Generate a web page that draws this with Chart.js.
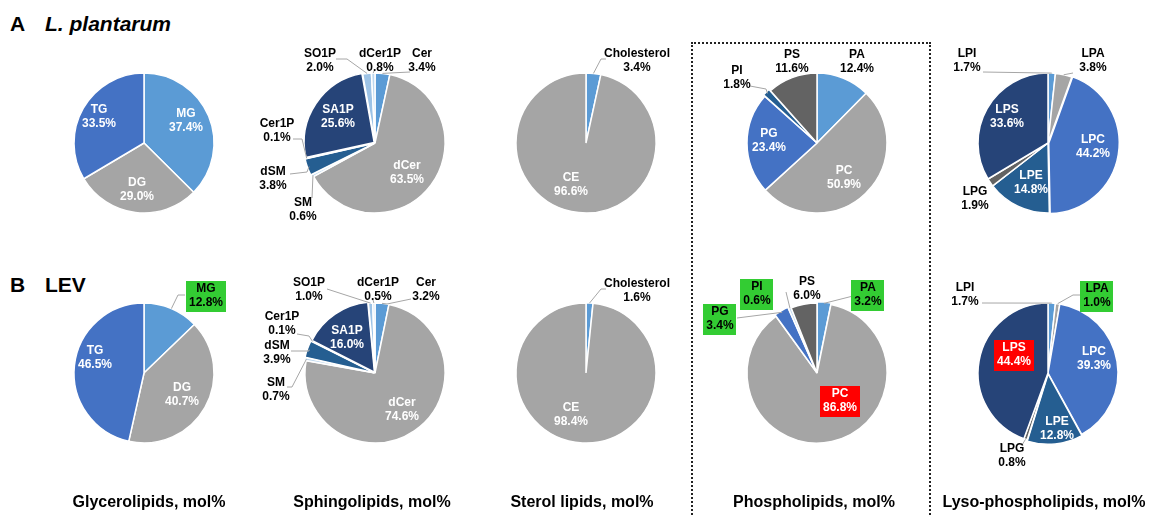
<!DOCTYPE html>
<html>
<head>
<meta charset="utf-8">
<title>Lipid class composition</title>
<script src="https://cdn.jsdelivr.net/npm/chart.js@4.4.0/dist/chart.umd.min.js"></script>
<style>
  body { margin: 0; background: #fff; font-family: Arial, 'Liberation Sans', sans-serif; }
  #fig { position: relative; width: 1161px; height: 517px; overflow: hidden; }
  .pie { position: absolute; }
  .panel { position: absolute; font-weight: bold; font-size: 21px; line-height: 1; }
  .foot { position: absolute; top: 494px; font-weight: bold; font-size: 16px; line-height: 1;
          transform: translateX(-50%); white-space: nowrap; }
  #pl-box { position: absolute; left: 691px; top: 42px; width: 236px; height: 490px;
            border: 2px dotted #222; border-bottom: none; }
</style>
</head>
<body>
<div id="fig">
  <div class="panel" style="left:10px;top:13px">A</div>
  <div class="panel" style="left:45px;top:13px;font-style:italic">L. plantarum</div>
  <div class="panel" style="left:10px;top:274px">B</div>
  <div class="panel" style="left:45px;top:274px">LEV</div>
  <div id="pl-box"></div>
</div>
<script>
// mol% per lipid class, slices listed clockwise from 12 o'clock
const GLYCERO_CLASSES = ['MG', 'DG', 'TG'];
const GLYCERO_LP      = [37.4, 29.0, 33.5];
const GLYCERO_LEV     = [12.8, 40.7, 46.5];

const SPHINGO_CLASSES = ['Cer', 'dCer', 'SM', 'dSM', 'Cer1P', 'SA1P', 'SO1P', 'dCer1P'];
const SPHINGO_LP      = [3.4, 63.5, 0.6, 3.8, 0.1, 25.6, 2.0, 0.8];
const SPHINGO_LEV     = [3.2, 74.6, 0.7, 3.9, 0.1, 16.0, 1.0, 0.5];

const STEROL_CLASSES  = ['Cholesterol', 'CE'];
const STEROL_LP       = [3.4, 96.6];
const STEROL_LEV      = [1.6, 98.4];

const PHOSPHO_CLASSES = ['PA', 'PC', 'PG', 'PI', 'PS'];
const PHOSPHO_LP      = [12.4, 50.9, 23.4, 1.8, 11.6];
const PHOSPHO_LEV     = [3.2, 86.8, 3.4, 0.6, 6.0];

const LYSO_CLASSES    = ['LPI', 'LPA', 'LPC', 'LPE', 'LPG', 'LPS'];
const LYSO_LP         = [1.7, 3.8, 44.2, 14.8, 1.9, 33.6];
const LYSO_LEV        = [1.7, 1.0, 39.3, 12.8, 0.8, 44.4];

const GROUP_TITLES = ['Glycerolipids, mol%', 'Sphingolipids, mol%', 'Sterol lipids, mol%',
                      'Phospholipids, mol%', 'Lyso-phospholipids, mol%'];

// ── Styling ───────────────────────────────────────────────────────────
const C = {
  blue: '#5B9BD5', gray: '#A5A5A5', mid: '#4472C4', navy: '#264478',
  teal: '#255E91', dark: '#636363', pale: '#9DC3E6', paler: '#BDD7EE'
};
const GREEN = '#33CC33', RED = '#FF0000', LEAD = '#A6A6A6';
const FONT = "bold 12px Arial, 'Liberation Sans', sans-serif";
const COL_X = [144, 375, 586, 817, 1048];
const ROW_Y = [143, 373];
const FOOT_X = [149, 372, 582, 814, 1044];
const RADIUS = 70;

// label placement per slice: offset from pie centre, text colour/box, leader points
const IN = (dx, dy) => ({ dx, dy, fill: '#fff' });
const OUT = (dx, dy, lead) => ({ dx, dy, fill: '#000', lead });
const BOX = (dx, dy, bg, lead) => ({ dx, dy, fill: bg === RED ? '#fff' : '#000', bg, lead });

const PIES = [
  { col: 0, row: 0, names: GLYCERO_CLASSES, values: GLYCERO_LP, colors: [C.blue, C.gray, C.mid],
    labels: [IN(42, -22), IN(-7, 47), IN(-45, -26)] },
  { col: 0, row: 1, names: GLYCERO_CLASSES, values: GLYCERO_LEV, colors: [C.blue, C.gray, C.mid],
    labels: [BOX(62, -77, GREEN, [[41, -78], [34, -78]]), IN(38, 22), IN(-49, -15)] },

  { col: 1, row: 0, names: SPHINGO_CLASSES, values: SPHINGO_LP,
    colors: [C.blue, C.gray, C.paler, C.teal, C.navy, C.navy, C.pale, C.paler],
    offset: [0, 0, 3, 4, 4, 4, 0, 0],
    labels: [OUT(47, -82, [[35, -71]]), IN(32, 30), OUT(-72, 67, [[-63, 55]]),
             OUT(-102, 36, [[-85, 31], [-68, 29]]), OUT(-98, -12, [[-82, -4], [-73, -4]]),
             IN(-37, -26), OUT(-55, -82, [[-39, -84], [-28, -84]]), OUT(5, -82, [[-1, -72]])] },
  { col: 1, row: 1, names: SPHINGO_CLASSES, values: SPHINGO_LEV,
    colors: [C.blue, C.gray, C.paler, C.teal, C.navy, C.navy, C.pale, C.paler],
    offset: [0, 0, 3, 4, 4, 4, 0, 0],
    labels: [OUT(51, -83, [[36, -74], [12, -69]]), IN(27, 37), OUT(-99, 17, [[-88, 14], [-83, 14]]),
             OUT(-98, -20, [[-84, -22], [-66, -22]]), OUT(-93, -49, [[-78, -39], [-66, -37]]),
             IN(-28, -35), OUT(-66, -83, [[-48, -84]]), OUT(3, -83, [[-2, -73]])] },

  { col: 2, row: 0, names: STEROL_CLASSES, values: STEROL_LP, colors: [C.blue, C.gray],
    labels: [OUT(51, -82, [[20, -84], [15, -84]]), IN(-15, 42)] },
  { col: 2, row: 1, names: STEROL_CLASSES, values: STEROL_LEV, colors: [C.blue, C.gray],
    labels: [OUT(51, -82, [[20, -84], [15, -84]]), IN(-15, 42)] },

  { col: 3, row: 0, names: PHOSPHO_CLASSES, values: PHOSPHO_LP,
    colors: [C.blue, C.gray, C.mid, C.teal, C.dark], offset: [0, 0, 0, 4, 0],
    labels: [OUT(40, -81), IN(27, 35), IN(-48, -2), OUT(-80, -65, [[-67, -57], [-51, -54]]),
             OUT(-25, -81)] },
  { col: 3, row: 1, names: PHOSPHO_CLASSES, values: PHOSPHO_LEV,
    colors: [C.blue, C.gray, C.mid, C.paler, C.dark], offset: [3, 0, 4, 0, 0],
    labels: [BOX(51, -78, GREEN, [[36, -77]]), BOX(23, 28, RED), BOX(-97, -54, GREEN, [[-80, -55]]),
             BOX(-60, -79, GREEN, [[-31, -81]]), OUT(-10, -84)] },

  { col: 4, row: 0, names: LYSO_CLASSES, values: LYSO_LP,
    colors: [C.blue, C.gray, C.mid, C.teal, C.dark, C.navy], offset: [0, 0, 3, 0, 0, 0],
    labels: [OUT(-81, -82, [[-65, -71]]), OUT(45, -82, [[25, -70]]), IN(45, 4), IN(-17, 40),
             OUT(-73, 56), IN(-41, -26)] },
  { col: 4, row: 1, names: LYSO_CLASSES, values: LYSO_LEV,
    colors: [C.blue, C.gray, C.mid, C.teal, C.dark, C.navy], offset: [0, 0, 0, 4, 0, 0],
    labels: [OUT(-83, -78, [[-66, -70]]), BOX(49, -77, GREEN, [[33, -78], [25, -78]]), IN(46, -14),
             IN(9, 56), OUT(-36, 83, [[-26, 72]]), BOX(-34, -18, RED)] },
];

// ── Slice labels with leader lines ───────────────────────────────────
function sliceLabels(specs, names) {
  return {
    id: 'sliceLabels',
    afterDatasetsDraw(chart) {
      const ctx = chart.ctx;
      const values = chart.data.datasets[0].data;
      ctx.save();
      ctx.font = FONT;
      ctx.textAlign = 'center';
      ctx.textBaseline = 'middle';
      chart.getDatasetMeta(0).data.forEach((arc, i) => {
        const s = specs[i];
        if (!s) return;
        const { x, y, startAngle, endAngle, outerRadius } =
          arc.getProps(['x', 'y', 'startAngle', 'endAngle', 'outerRadius'], true);
        const mid = (startAngle + endAngle) / 2;
        const lx = x + s.dx, ly = y + s.dy;
        const lines = [names[i], values[i].toFixed(1) + '%'];

        if (s.lead) {
          ctx.beginPath();
          ctx.strokeStyle = LEAD;
          ctx.lineWidth = 1;
          s.lead.forEach((p, k) => {
            if (k === 0) ctx.moveTo(x + p[0], y + p[1]);
            else ctx.lineTo(x + p[0], y + p[1]);
          });
          ctx.lineTo(x + Math.cos(mid) * outerRadius, y + Math.sin(mid) * outerRadius);
          ctx.stroke();
        }
        if (s.bg) {
          const w = Math.max(...lines.map(t => ctx.measureText(t).width)) + 6;
          ctx.fillStyle = s.bg;
          ctx.fillRect(Math.round(lx - w / 2), Math.round(ly - 15.5), Math.round(w), 31);
        }
        ctx.fillStyle = s.fill;
        ctx.fillText(lines[0], lx, ly - 7);
        ctx.fillText(lines[1], lx, ly + 7);
      });
      ctx.restore();
    }
  };
}

// ── Build the ten pies ───────────────────────────────────────────────
const W = 250, H = 236;
const fig = document.getElementById('fig');

PIES.forEach(p => {
  const canvas = document.createElement('canvas');
  canvas.className = 'pie';
  canvas.width = W;
  canvas.height = H;
  canvas.style.left = (COL_X[p.col] - W / 2) + 'px';
  canvas.style.top = (ROW_Y[p.row] - H / 2) + 'px';
  fig.appendChild(canvas);

  new Chart(canvas, {
    type: 'pie',
    data: {
      labels: p.names,
      datasets: [{
        data: p.values,
        backgroundColor: p.colors,
        borderColor: '#fff',
        borderWidth: 1.5,
        offset: p.offset || 0
      }]
    },
    options: {
      responsive: false,
      animation: false,
      events: [],
      radius: RADIUS,
      layout: { padding: 0 },
      plugins: { legend: { display: false }, tooltip: { enabled: false } }
    },
    plugins: [sliceLabels(p.labels, p.names)]
  });
});

GROUP_TITLES.forEach((t, i) => {
  const d = document.createElement('div');
  d.className = 'foot';
  d.style.left = FOOT_X[i] + 'px';
  d.textContent = t;
  fig.appendChild(d);
});
</script>
</body>
</html>
